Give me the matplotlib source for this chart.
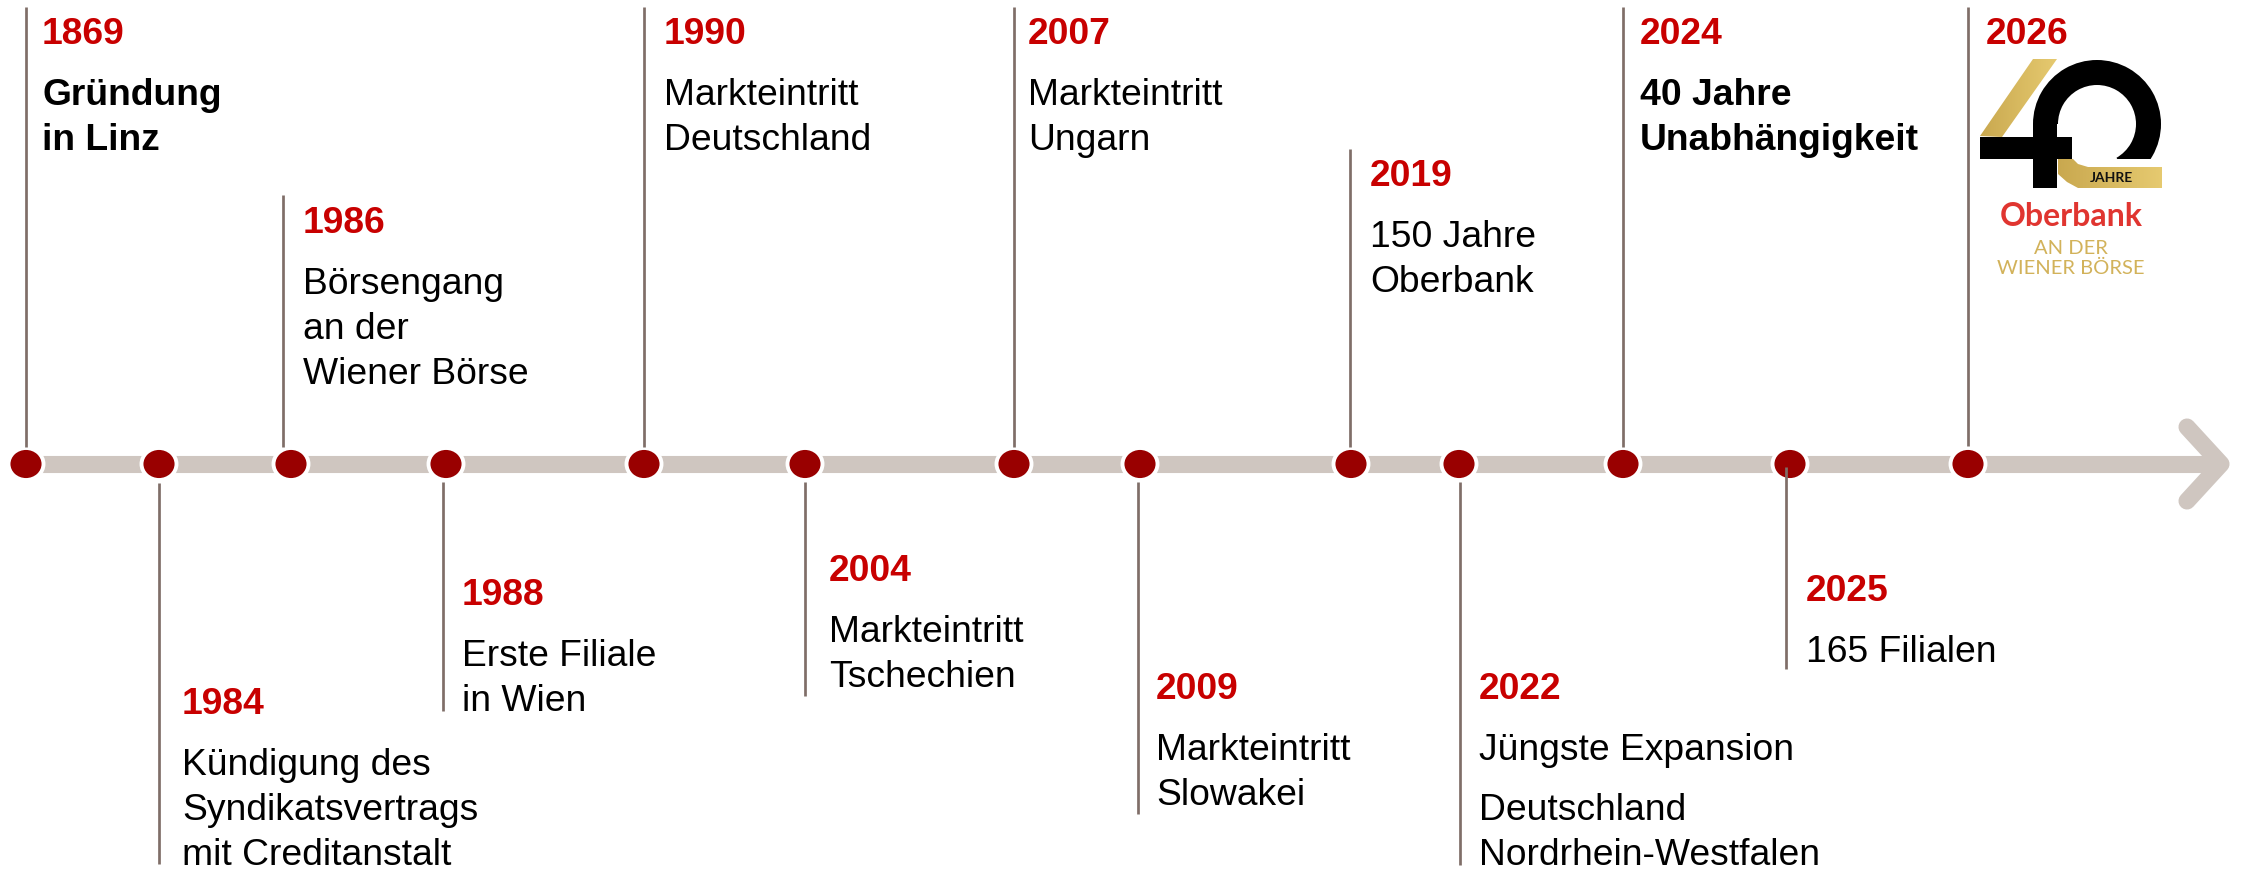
import matplotlib
matplotlib.use('Agg')
import matplotlib.pyplot as plt
import numpy as np
from matplotlib.colors import LinearSegmentedColormap
from matplotlib.patches import Ellipse, Polygon, Rectangle, Wedge

plt.rcParams['font.family'] = ['Liberation Sans', 'DejaVu Sans']

years = ['1869', '1984', '1986', '1988', '1990', '2004', '2007', '2009', '2019', '2022', '2024', '2025', '2026']
labels = [
    ['Gründung', 'in Linz'],
    ['Kündigung des', 'Syndikatsvertrags', 'mit Creditanstalt'],
    ['Börsengang', 'an der', 'Wiener Börse'],
    ['Erste Filiale', 'in Wien'],
    ['Markteintritt', 'Deutschland'],
    ['Markteintritt', 'Tschechien'],
    ['Markteintritt', 'Ungarn'],
    ['Markteintritt', 'Slowakei'],
    ['150 Jahre', 'Oberbank'],
    ['Jüngste Expansion', '', 'Deutschland', 'Nordrhein-Westfalen'],
    ['40 Jahre', 'Unabhängigkeit'],
    ['165 Filialen'],
    [],
]
bold_years = ['1869', '2024']

# pixel layout, y runs downwards
dot_x = [26, 159, 291, 446, 644, 805, 1014, 1140, 1351, 1459, 1623, 1790, 1968]
stem_x = [26, 159, 283, 443, 644, 805, 1014, 1138, 1350, 1460, 1623, 1786, 1968]
stem_y0 = [448, 484, 448, 483, 448, 483, 448, 483, 448, 483, 448, 468, 447]
stem_y1 = [8, 865, 196, 712, 8, 697, 8, 815, 150, 866, 8, 670, 8]
text_x = [42, 182, 303, 462, 664, 829, 1028, 1156, 1370, 1479, 1640, 1806, 1986]
year_y = [45, 715, 234, 606, 45, 582, 45, 700, 187, 700, 45, 602, 45]

RED = '#c80000'
GOLD = '#d2b25a'

fig = plt.figure(figsize=(22.42, 8.7), dpi=100)
ax = fig.add_axes([0, 0, 1, 1])

# time axis with arrow head
ax.plot([26, 2219], [465, 465], color='#cfc6c0', lw=12.3, solid_capstyle='butt', zorder=1)
ax.plot([2187, 2221, 2187], [428, 465, 502], color='#cfc6c0', lw=12.3,
        solid_capstyle='round', solid_joinstyle='round', zorder=1)

for x in dot_x:
    ax.add_patch(Ellipse((x, 465), 35, 32, fc='#990000', ec='white', lw=2.8, zorder=2))

for i in range(len(years)):
    ax.plot([stem_x[i], stem_x[i]], [stem_y0[i], stem_y1[i]], color='#7f6e68', lw=1.95,
            solid_capstyle='butt', zorder=3)
    ax.text(text_x[i], year_y[i] - 1, years[i], color=RED, fontsize=26.8, fontweight='bold', va='baseline')
    y = year_y[i] + 60
    for line in labels[i]:
        if line == '':
            y += 15
            continue
        ax.text(text_x[i], y, line, color='black', fontsize=26.8, va='baseline',
                fontweight='bold' if years[i] in bold_years else 'normal')
        y += 45

# anniversary logo
gold_map = LinearSegmentedColormap.from_list('gold', ['#c9a84f', '#e6ca70'])
gradient = np.linspace(0, 1, 256).reshape(1, -1)
diag = Polygon([(1980, 137), (2033, 60), (2057, 60), (2002, 138)], fc='none', ec='none', transform=ax.transData)
tail = Polygon([(2058, 160), (2073, 160), (2078, 165), (2088, 168), (2162, 168), (2162, 189),
                (2078, 189), (2067, 183), (2058, 175)], fc='none', ec='none', transform=ax.transData)
for shape, box in [(diag, (1980, 2057, 138, 60)), (tail, (2058, 2162, 189, 160))]:
    im = ax.imshow(gradient, cmap=gold_map, extent=box, aspect='auto', zorder=2)
    im.set_clip_path(shape)

ring = Wedge((2097, 125), 64, 180, 420, width=25, fc='black', ec='none', zorder=3)
ax.add_patch(ring)
ring.set_clip_path(Rectangle((1975, 50), 200, 110, transform=ax.transData))
ax.add_patch(Rectangle((2033, 125), 24, 64, fc='black', ec='none', zorder=3))
ax.add_patch(Rectangle((1980, 138), 92, 22, fc='black', ec='none', zorder=3))
ax.text(2111, 178, 'JAHRE', fontsize=10, fontweight='bold', color='#111111', ha='center', va='center', zorder=4,
        family=['Lato', 'DejaVu Sans'])
ax.text(2071, 217, 'Oberbank', fontsize=23, fontweight='bold', color='#e03530', ha='center', va='center',
        family=['Lato', 'DejaVu Sans'])
ax.text(2071, 248, 'AN DER', fontsize=14.5, color=GOLD, ha='center', va='center', family=['Lato', 'DejaVu Sans'])
ax.text(2071, 268, 'WIENER BÖRSE', fontsize=14.5, color=GOLD, ha='center', va='center',
        family=['Lato', 'DejaVu Sans'])

ax.set_xlim(0, 2242)
ax.set_ylim(870, 0)
ax.axis('off')

fig.savefig('out.png', dpi=100, facecolor='white')
